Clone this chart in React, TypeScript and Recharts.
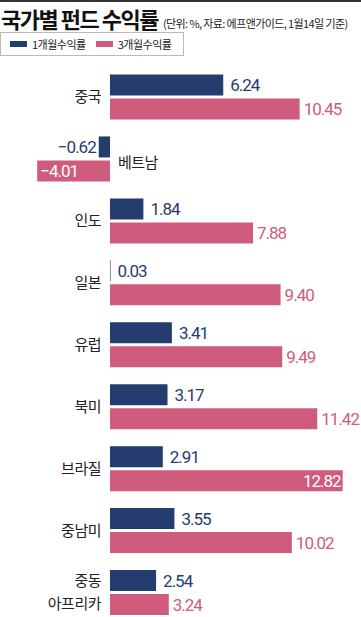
import React from 'react';
import { BarChart, Bar, XAxis, YAxis, LabelList } from 'recharts';

const categories = ['중국', '베트남', '인도', '일본', '유럽', '북미', '브라질', '중남미', '중동\n아프리카'];
const oneMonth = [6.24, -0.62, 1.84, 0.03, 3.41, 3.17, 2.91, 3.55, 2.54];
const threeMonth = [10.45, -4.01, 7.88, 9.4, 9.49, 11.42, 12.82, 10.02, 3.24];

const NAVY = '#243d6e';
const PINK = '#cf5c7c';
const KR = "'Noto Sans CJK KR', 'Noto Sans', sans-serif";
const NUM = "Roboto, 'Noto Sans', sans-serif";

const data = categories.map((name, i) => ({ name, m1: oneMonth[i], m3: threeMonth[i] }));

const CHART_W = 361;

const fmt = (v: number) => (v < 0 ? '\u2212' + Math.abs(v).toFixed(2) : v.toFixed(2));

// value label: outside the bar end, or inside in white when it would not fit
const makeValueLabel = (color: string, gap: number) => (props: any) => {
  const { x, y, width, height, value } = props;
  const v = Number(value);
  const left = Math.min(x, x + width);
  const right = Math.max(x, x + width);
  const text = fmt(v);
  const est = text.length * 7.5;
  const cy = y + height / 2;
  const style = { fontFamily: NUM, fontSize: 17, letterSpacing: -1 };
  if (v >= 0) {
    if (right + gap + est > CHART_W) {
      return <text x={right - 2} y={cy} dy="0.36em" textAnchor="end" fill="#fff" style={style}>{text}</text>;
    }
    return <text x={right + gap} y={cy} dy="0.36em" textAnchor="start" fill={color} style={style}>{text}</text>;
  }
  if (left - gap - est < 0) {
    return <text x={left + 3} y={cy} dy="0.36em" textAnchor="start" fill="#fff" style={style}>{text}</text>;
  }
  return <text x={left - 3} y={cy} dy="0.36em" textAnchor="end" fill={color} style={style}>{text}</text>;
};

// category name next to the zero line, on the side away from the bars
const CategoryLabel = (props: any) => {
  const { x, y, width, index } = props;
  const v = oneMonth[index];
  const left = Math.min(x, x + width);
  const right = Math.max(x, x + width);
  const zero = v >= 0 ? left : right;
  const cy = y + 22.5;
  const lines = categories[index].split('\n');
  const neg = v < 0;
  const lh = 23;
  const start = cy - ((lines.length - 1) * lh) / 2;
  return (
    <g>
      {lines.map((l, k) => (
        <text
          key={k}
          x={neg ? zero + 8 : zero - 9}
          y={start + k * lh + (neg ? 4 : 0)}
          dy="0.36em"
          textAnchor={neg ? 'start' : 'end'}
          fill="#222"
          style={{ fontFamily: KR, fontSize: 15, letterSpacing: -0.5 }}
        >
          {l}
        </text>
      ))}
    </g>
  );
};

export default function App() {
  return (
    <div style={{ position: 'fixed', top: 0, left: 0, width: 361, height: 617, overflow: 'hidden', background: '#fff' }}>
      <div style={{ position: 'absolute', top: 0, left: 0, width: 361, height: 2, background: '#333' }} />
      <div style={{ position: 'absolute', top: 2, left: 1, whiteSpace: 'nowrap', fontFamily: KR, color: '#111' }}>
        <span style={{ fontSize: 22, fontWeight: 700, letterSpacing: -1.5 }}>국가별 펀드 수익률</span>
        <span style={{ fontSize: 11, letterSpacing: -0.6, marginLeft: 5, color: '#222' }}>
          (단위: %, 자료: 에프앤가이드, 1월14일 기준)
        </span>
      </div>
      <div
        style={{
          position: 'absolute', top: 32, left: 0, width: 184, height: 24,
          border: '1px solid #bbb', boxSizing: 'border-box', fontFamily: KR, fontSize: 11,
          letterSpacing: -0.5, color: '#222', display: 'flex', alignItems: 'center',
        }}
      >
        <span style={{ display: 'inline-block', width: 17, height: 6, background: NAVY, marginLeft: 9, marginRight: 5 }} />
        <span>1개월수익률</span>
        <span style={{ display: 'inline-block', width: 17, height: 6, background: PINK, marginLeft: 10, marginRight: 5 }} />
        <span>3개월수익률</span>
      </div>
      <div style={{ position: 'absolute', top: 62, left: 0 }}>
        <BarChart
          width={CHART_W}
          height={562}
          data={data}
          layout="vertical"
          margin={{ top: 4.5, right: 0, bottom: 0, left: 0 }}
          barSize={21}
          barGap={3}
        >
          <XAxis type="number" hide domain={[-6.06, 13.83]} />
          <YAxis type="category" dataKey="name" hide />
          <Bar dataKey="m1" fill={NAVY} isAnimationActive={false}>
            <LabelList dataKey="m1" content={makeValueLabel(NAVY, 7)} />
            <LabelList dataKey="name" content={CategoryLabel} />
          </Bar>
          <Bar dataKey="m3" fill={PINK} isAnimationActive={false}>
            <LabelList dataKey="m3" content={makeValueLabel(PINK, 4)} />
          </Bar>
        </BarChart>
      </div>
    </div>
  );
}
